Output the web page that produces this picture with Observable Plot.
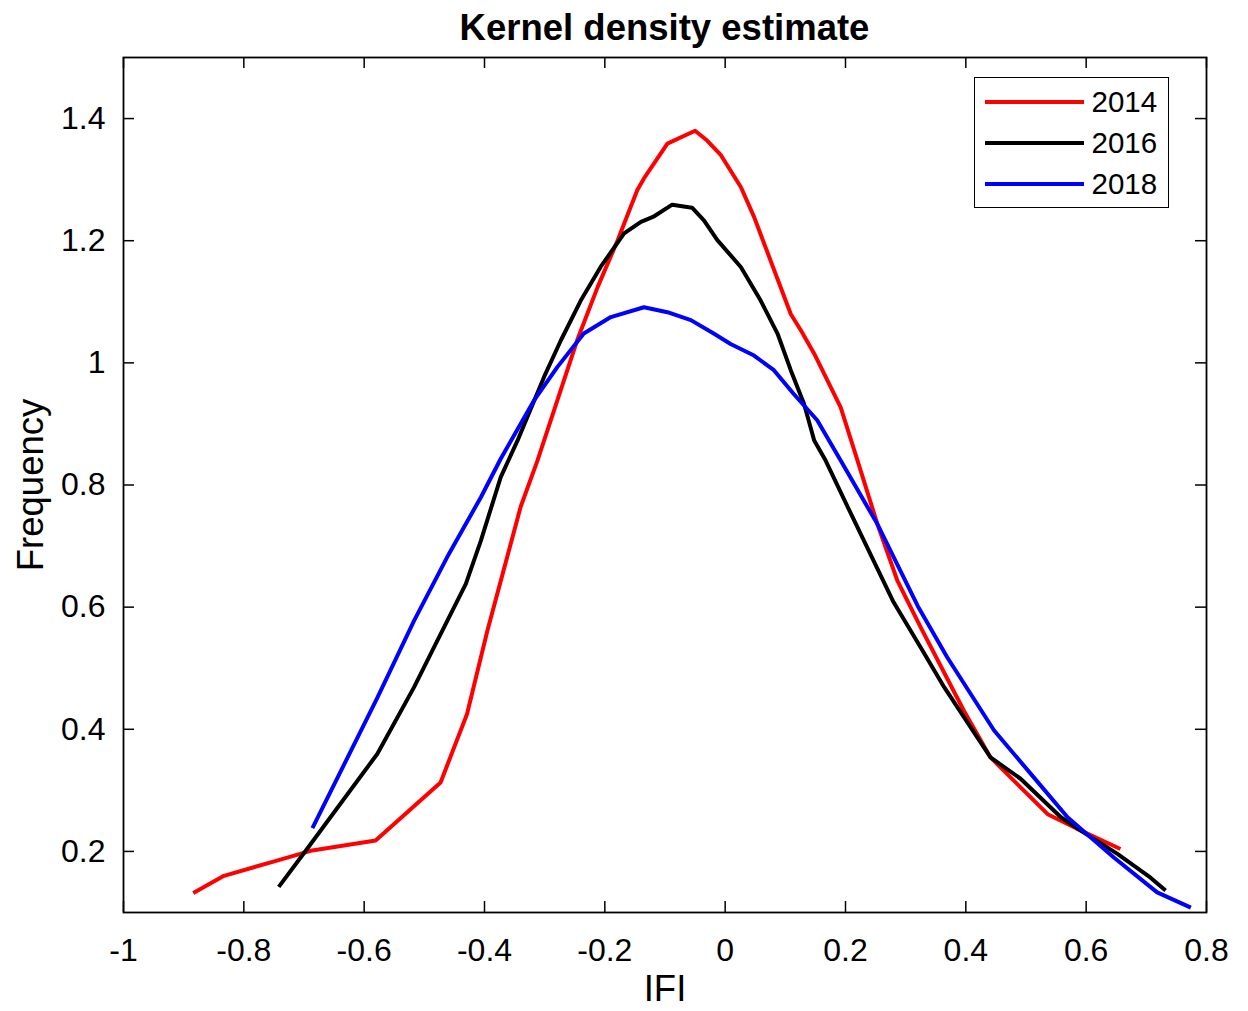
<!DOCTYPE html>
<html>
<head>
<meta charset="utf-8">
<script src="https://cdn.jsdelivr.net/npm/d3@7"></script>
<script src="https://cdn.jsdelivr.net/npm/@observablehq/plot@0.6"></script>
<style>
  body { margin: 0; background: #fff; font-family: "Liberation Sans", Arial, sans-serif; }
  #wrap { position: relative; width: 1248px; height: 1011px; overflow: hidden; background: #fff; }
  #title { position: absolute; left: 123px; width: 1083px; top: 0; height: 50px; text-align: center;
           font-weight: bold; font-size: 36.5px; line-height: 56px; color: #000; }
  #chart { position: absolute; left: 0; top: 50px; }
  #legend { position: absolute; left: 974px; top: 77px; width: 195px; height: 131px; box-sizing: border-box;
            border: 1.5px solid #000; background: #fff; padding-top: 3px; }
  .row { display: flex; align-items: center; height: 41px; }
  .sw { margin-left: 9.5px; width: 99px; height: 4px; }
  .lb { margin-left: 8px; font-size: 29.5px; color: #000; }
</style>
</head>
<body>
<div id="wrap">
  <div id="title">Kernel density estimate</div>
  <div id="chart"></div>
  <div id="legend"></div>
</div>
<script>
// ---- data ----
const years = ["2014", "2016", "2018"];
const colors = ["#ff0000", "#000000", "#0000ff"];

const x2014 = [-0.884, -0.833, -0.745, -0.689, -0.581, -0.473, -0.429, -0.406, -0.395, -0.340, -0.312, -0.246, -0.212, -0.179, -0.146, -0.135, -0.096, -0.050, -0.030, -0.007, 0.026, 0.048, 0.109, 0.126, 0.148, 0.192, 0.220, 0.253, 0.286, 0.325, 0.397, 0.441, 0.491, 0.536, 0.585, 0.657];
const y2014 = [0.132, 0.160, 0.185, 0.201, 0.218, 0.313, 0.425, 0.518, 0.562, 0.764, 0.840, 1.037, 1.124, 1.200, 1.283, 1.302, 1.359, 1.380, 1.364, 1.340, 1.288, 1.239, 1.080, 1.053, 1.015, 0.927, 0.840, 0.736, 0.644, 0.567, 0.430, 0.354, 0.305, 0.261, 0.237, 0.204];

const x2016 = [-0.742, -0.695, -0.578, -0.517, -0.484, -0.431, -0.406, -0.373, -0.345, -0.301, -0.273, -0.240, -0.207, -0.168, -0.140, -0.118, -0.088, -0.055, -0.035, -0.013, 0.026, 0.059, 0.087, 0.109, 0.131, 0.148, 0.167, 0.209, 0.280, 0.325, 0.364, 0.441, 0.491, 0.558, 0.591, 0.652, 0.707, 0.732];
const y2016 = [0.142, 0.204, 0.360, 0.469, 0.534, 0.638, 0.709, 0.813, 0.873, 0.977, 1.037, 1.102, 1.157, 1.212, 1.231, 1.240, 1.259, 1.254, 1.233, 1.201, 1.157, 1.102, 1.048, 0.988, 0.933, 0.873, 0.840, 0.753, 0.608, 0.534, 0.469, 0.354, 0.319, 0.256, 0.234, 0.196, 0.157, 0.136];

const x2018 = [-0.686, -0.578, -0.517, -0.462, -0.406, -0.373, -0.318, -0.279, -0.235, -0.190, -0.135, -0.096, -0.057, -0.019, 0.009, 0.048, 0.081, 0.114, 0.153, 0.192, 0.253, 0.320, 0.369, 0.447, 0.508, 0.569, 0.646, 0.718, 0.774];
const y2018 = [0.238, 0.452, 0.578, 0.682, 0.780, 0.843, 0.938, 0.993, 1.048, 1.075, 1.091, 1.083, 1.070, 1.048, 1.031, 1.012, 0.988, 0.949, 0.906, 0.840, 0.736, 0.602, 0.518, 0.398, 0.327, 0.256, 0.190, 0.133, 0.108];

const xTicks = [-1, -0.8, -0.6, -0.4, -0.2, 0, 0.2, 0.4, 0.6, 0.8];
const yTicks = [0.2, 0.4, 0.6, 0.8, 1, 1.2, 1.4];
const xLabel = "IFI";
const yLabel = "Frequency";

// ---- build table ----
const seriesX = [x2014, x2016, x2018];
const seriesY = [y2014, y2016, y2018];
const rows = [];
years.forEach((yr, i) => seriesX[i].forEach((xv, j) => rows.push({year: yr, x: xv, y: seriesY[i][j]})));

// ---- layout ----
const W = 1248, H = 961, mt = 7, mb = 99, ml = 123, mr = 42;
const frameH = H - mt - mb, frameW = W - ml - mr, tick = 11;
const fmt = d => String(+(+d).toFixed(1));
const font = '"Liberation Sans", Arial, sans-serif';

const chart = Plot.plot({
  width: W, height: H,
  marginTop: mt, marginBottom: mb, marginLeft: ml, marginRight: mr,
  x: {domain: [-1, 0.8]},
  y: {domain: [0.1, 1.5]},
  color: {domain: years, range: colors},
  style: {fontFamily: font, color: "#000", background: "#fff", overflow: "visible"},
  marks: [
    Plot.line(rows, {x: "x", y: "y", z: "year", stroke: "year", strokeWidth: 4, strokeLinejoin: "round", strokeLinecap: "butt"}),
    Plot.frame({stroke: "#000", strokeWidth: 1.8}),
    Plot.tickX(xTicks, {x: d => d, insetTop: frameH - tick, stroke: "#000", strokeWidth: 1.5}),
    Plot.tickX(xTicks, {x: d => d, insetBottom: frameH - tick, stroke: "#000", strokeWidth: 1.5}),
    Plot.tickY(yTicks, {y: d => d, insetRight: frameW - tick, stroke: "#000", strokeWidth: 1.5}),
    Plot.tickY(yTicks, {y: d => d, insetLeft: frameW - tick, stroke: "#000", strokeWidth: 1.5}),
    Plot.axisX(xTicks, {tickSize: 0, tickPadding: 26, tickFormat: fmt, fontSize: 32, label: null}),
    Plot.axisY(yTicks, {tickSize: 0, tickPadding: 18, tickFormat: fmt, fontSize: 32, label: null}),
    Plot.text([xLabel], {frameAnchor: "bottom", lineAnchor: "bottom", dy: 88, fontSize: 36.5, fill: "#000"}),
    Plot.text([yLabel], {frameAnchor: "left", rotate: -90, lineAnchor: "bottom", textAnchor: "middle", dx: -81, fontSize: 36.5, fill: "#000"})
  ]
});
document.getElementById("chart").appendChild(chart);

// ---- legend ----
const legend = document.getElementById("legend");
years.forEach((yr, i) => {
  const r = document.createElement("div");
  r.className = "row";
  r.innerHTML = `<div class="sw" style="background:${colors[i]}"></div><div class="lb">${yr}</div>`;
  legend.appendChild(r);
});
</script>
</body>
</html>
